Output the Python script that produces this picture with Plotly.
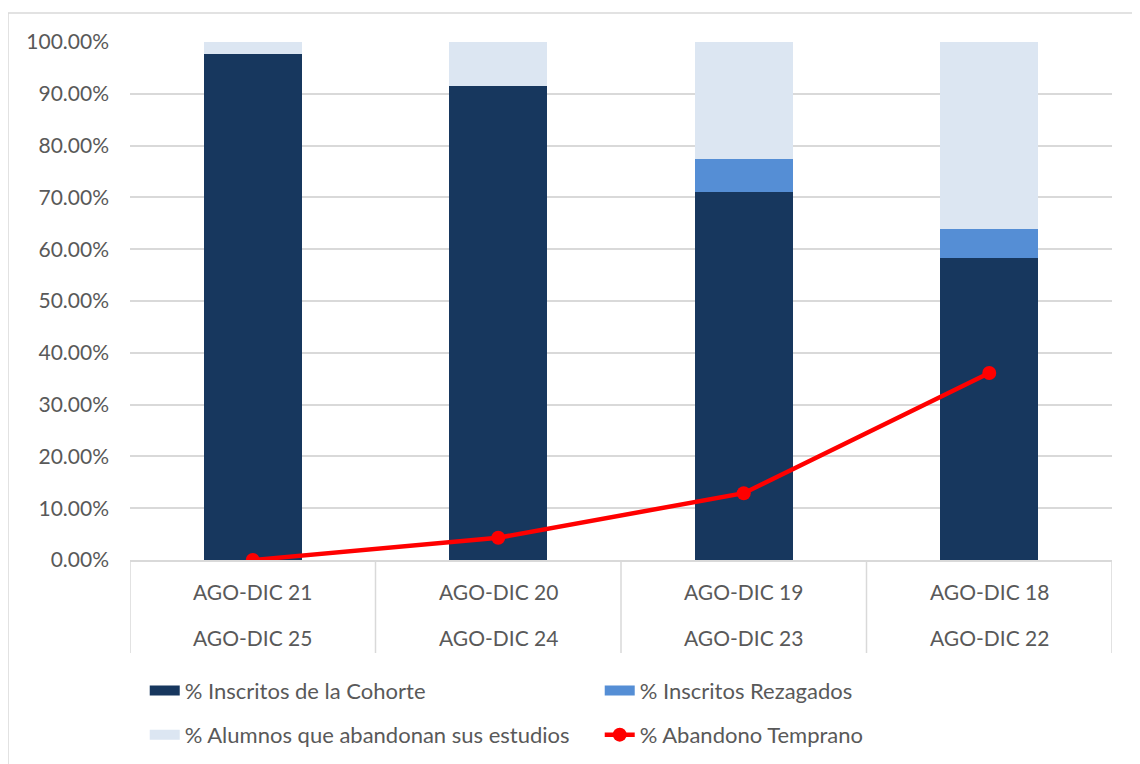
import plotly.graph_objects as go

# categorías (dos niveles)
periodo_inicio = ["AGO-DIC 21", "AGO-DIC 20", "AGO-DIC 19", "AGO-DIC 18"]
periodo_fin = ["AGO-DIC 25", "AGO-DIC 24", "AGO-DIC 23", "AGO-DIC 22"]

# valores en %
inscritos_cohorte = [97.7, 91.5, 71.0, 58.3]
inscritos_rezagados = [0.0, 0.0, 6.4, 5.6]
alumnos_abandonan = [2.3, 8.5, 22.6, 36.1]
abandono_temprano = [0.0, 4.3, 12.9, 36.1]

txt = "#595959"
grid = "#D9D9D9"
fnt = "Lato"
fs = 21
c_cohorte, c_rezag, c_aband, c_temp = "#17375E", "#558ED5", "#DCE6F2", "#FF0000"

x = periodo_inicio
fig = go.Figure()
fig.add_trace(go.Bar(x=x, y=inscritos_cohorte, name="% Inscritos de la Cohorte",
                     marker=dict(color=c_cohorte, line=dict(width=0)), width=0.4, showlegend=False))
fig.add_trace(go.Bar(x=x, y=inscritos_rezagados, name="% Inscritos Rezagados",
                     marker=dict(color=c_rezag, line=dict(width=0)), width=0.4, showlegend=False))
fig.add_trace(go.Bar(x=x, y=alumnos_abandonan, name="% Alumnos que abandonan sus estudios",
                     marker=dict(color=c_aband, line=dict(width=0)), width=0.4, showlegend=False))

# entradas de leyenda con símbolo rectangular ancho
for nombre, color, leg in [("% Inscritos de la Cohorte", c_cohorte, "legend"),
                           ("% Inscritos Rezagados", c_rezag, "legend"),
                           ("% Alumnos que abandonan sus estudios", c_aband, "legend2")]:
    fig.add_trace(go.Scatter(x=[None], y=[None], mode="lines", name=nombre,
                             line=dict(color=color, width=14), legend=leg))

fig.add_trace(go.Scatter(x=x, y=abandono_temprano, name="% Abandono Temprano",
                         mode="lines+markers", line=dict(color=c_temp, width=4.5),
                         marker=dict(size=14, color=c_temp), legend="legend2"))

# etiquetas de dos niveles y divisores
annotations = []
for i in range(len(periodo_inicio)):
    annotations.append(dict(x=i, y=-31 / 518, xref="x", yref="paper", text=periodo_inicio[i],
                            showarrow=False, yanchor="middle", font=dict(size=fs, color=txt)))
    annotations.append(dict(x=i, y=-77 / 518, xref="x", yref="paper", text=periodo_fin[i],
                            showarrow=False, yanchor="middle", font=dict(size=fs, color=txt)))

shapes = [dict(type="line", xref="x", yref="paper", x0=i - 0.5, x1=i - 0.5, y0=0, y1=-93 / 518,
               line=dict(color=grid, width=1.5)) for i in range(len(periodo_inicio) + 1)]
shapes.append(dict(type="rect", xref="paper", yref="paper",
                   x0=-122 / 982, x1=1.2, y0=-1.0, y1=(552 - 5) / 518,
                   line=dict(color=grid, width=1.5), fillcolor="rgba(0,0,0,0)", layer="below"))

leg_common = dict(orientation="h", xanchor="left", yanchor="top",
                  entrywidth=410, entrywidthmode="pixels", traceorder="normal",
                  font=dict(size=22, color=txt), bgcolor="rgba(0,0,0,0)")

fig.update_layout(
    width=1132, height=756,
    barmode="stack",
    paper_bgcolor="white", plot_bgcolor="white",
    font=dict(family=fnt, size=fs, color=txt),
    margin=dict(l=122, r=28, t=34, b=204, autoexpand=False),
    xaxis=dict(type="category", showline=True, linecolor=grid, linewidth=1.5,
               showticklabels=False, ticks="", range=[-0.5, 3.5]),
    yaxis=dict(range=[0, 100], dtick=10, ticksuffix="%", tickformat=".2f",
               showgrid=True, gridcolor=grid, gridwidth=1.5, zeroline=False,
               ticklabelstandoff=20, tickfont=dict(size=fs, color=txt)),
    legend=dict(x=0.015, y=-0.212, **leg_common),
    legend2=dict(x=0.015, y=-0.297, **leg_common),
    annotations=annotations,
    shapes=shapes,
)

fig.write_html("out.html")
